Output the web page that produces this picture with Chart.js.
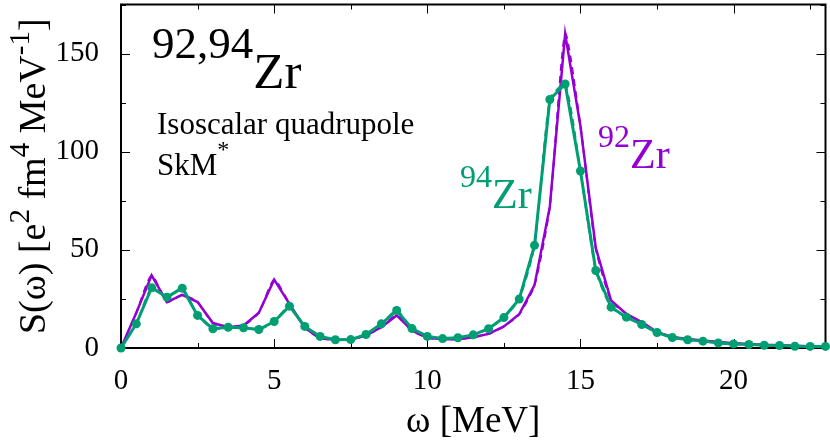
<!DOCTYPE html>
<html>
<head>
<meta charset="utf-8">
<script src="https://cdn.jsdelivr.net/npm/chart.js@4/dist/chart.umd.min.js"></script>
<style>
  html, body { margin: 0; padding: 0; background: #fff; }
</style>
</head>
<body>
<canvas id="chart" width="830" height="442"></canvas>
<script>
// excitation energy grid [MeV]
const omega = [0, 0.5, 1, 1.5, 2, 2.5, 3, 3.5, 4, 4.5, 5, 5.5, 6, 6.5, 7, 7.5, 8, 8.5, 9, 9.5,
  10, 10.5, 11, 11.5, 12, 12.5, 13, 13.5, 14, 14.5, 15, 15.5, 16, 16.5, 17, 17.5, 18, 18.5,
  19, 19.5, 20, 20.5, 21, 21.5, 22, 22.5, 23];

// strength function S(w) for 92Zr (purple) and 94Zr (green)
const zr92 = [0, 18, 37, 23.4, 27.1, 23.4, 12.7, 10.6, 11.5, 18, 34.8, 22.5, 10.3, 5, 4.2, 4.2,
  6.4, 10.6, 16.6, 8.9, 5.2, 4.5, 4.5, 5.5, 7.2, 11, 17.2, 32, 72, 160, 113, 51, 24.2, 17.4,
  13.2, 8.1, 5.6, 4.6, 3.8, 3.0, 2.4, 2.0, 1.6, 1.4, 1.1, 0.9, 0.8];
const zr94 = [0, 12.3, 30.7, 25.9, 30.5, 16.6, 9.8, 10.6, 10.3, 9.4, 13.5, 21.3, 11, 5.9, 4.2, 4.3,
  6.9, 12.3, 19.1, 9.9, 5.9, 4.8, 5.2, 6.7, 9.8, 15.5, 24.9, 52.3, 126.6, 134.5, 90.2, 39.5,
  20.8, 15.7, 12, 7.9, 5.3, 4.2, 3.5, 2.6, 2.1, 1.8, 1.4, 1.3, 0.9, 0.8, 0.8];

const xTicks = [0, 5, 10, 15, 20];
const yTicks = [0, 50, 100, 150];

const purple = '#9400d3';
const green = '#009e73';
const serif = "'Liberation Serif', 'DejaVu Serif', serif";

const pts = ys => omega.map((x, i) => ({ x: x, y: ys[i] }));

// draws a row of text pieces [text, size, dy] from x, returns width
function runs(ctx, x, y, parts, dry) {
  let cx = x;
  parts.forEach(([t, size, dy]) => {
    ctx.font = size + 'px ' + serif;
    if (!dry) ctx.fillText(t, cx, y + dy);
    cx += ctx.measureText(t).width;
  });
  return cx - x;
}

// gnuplot-like frame with inward ticks on all four sides
const framePlugin = {
  id: 'frame',
  beforeDatasetsDraw(chart) {
    const { ctx, chartArea: a, scales: { x, y } } = chart;
    ctx.save();
    ctx.strokeStyle = '#000';
    ctx.lineWidth = 1;
    ctx.beginPath();
    for (let v = 0; v <= 23; v += 2.5) {
      const px = Math.round(x.getPixelForValue(v)) + 0.5;
      const len = v % 5 === 0 ? 9 : 5;
      ctx.moveTo(px, a.bottom); ctx.lineTo(px, a.bottom - len);
      ctx.moveTo(px, a.top); ctx.lineTo(px, a.top + len);
    }
    for (let v = 0; v <= 175; v += 25) {
      const py = Math.round(y.getPixelForValue(v)) + 0.5;
      const len = v % 50 === 0 ? 9 : 5;
      ctx.moveTo(a.left, py); ctx.lineTo(a.left + len, py);
      ctx.moveTo(a.right, py); ctx.lineTo(a.right - len, py);
    }
    ctx.stroke();
    ctx.lineWidth = 2;
    ctx.strokeRect(a.left, a.top, a.right - a.left, a.bottom - a.top);
    ctx.restore();
  }
};

// labels and axis titles
const textPlugin = {
  id: 'texts',
  afterDraw(chart) {
    const { ctx, chartArea: a } = chart;
    ctx.save();
    ctx.textBaseline = 'alphabetic';
    ctx.textAlign = 'left';
    ctx.fillStyle = '#000';
    runs(ctx, 152, 88, [['92,94', 45, -30], ['Zr', 51, 0]]);
    ctx.font = '31px ' + serif;
    ctx.fillText('Isoscalar quadrupole', 157, 134);
    runs(ctx, 157, 175, [['SkM', 31, 0], ['*', 24, -18]]);

    ctx.fillStyle = green;
    runs(ctx, 460, 208, [['94', 32, -21], ['Zr', 42, 0]]);
    ctx.fillStyle = purple;
    runs(ctx, 598, 168, [['92', 32, -21], ['Zr', 42, 0]]);

    ctx.fillStyle = '#000';
    const xt = [['\u03c9 [MeV]', 37, 0]];
    const xw = runs(ctx, 0, 0, xt, true);
    runs(ctx, (a.left + a.right) / 2 - xw / 2, 432, xt);

    const yt = [['S(\u03c9) [e', 38, 0], ['2', 29, -16], [' fm', 38, 0], ['4', 29, -16],
      [' MeV', 38, 0], ['-1', 29, -16], [']', 38, 0]];
    const yw = runs(ctx, 0, 0, yt, true);
    ctx.translate(45, (a.top + a.bottom) / 2);
    ctx.rotate(-Math.PI / 2);
    runs(ctx, -yw / 2, 0, yt);
    ctx.restore();
  }
};

new Chart(document.getElementById('chart'), {
  type: 'line',
  data: {
    datasets: [
      { label: '94Zr', data: pts(zr94), borderColor: green, backgroundColor: green,
        borderWidth: 3, pointRadius: 4.5, pointBorderWidth: 0, pointBackgroundColor: green,
        order: 0, clip: false },
      { label: '94Zr smooth', data: pts(zr94), borderColor: green, borderWidth: 2,
        borderDash: [7, 5], pointRadius: 0, tension: 0.2, order: 1, clip: false },
      { label: '92Zr smooth', data: pts(zr92), borderColor: purple, borderWidth: 2,
        borderDash: [7, 5], pointRadius: 0, tension: 0.2, order: 2, clip: false },
      { label: '92Zr', data: pts(zr92), borderColor: purple, borderWidth: 2.5,
        pointRadius: 0, order: 3, clip: false }
    ]
  },
  options: {
    responsive: false,
    animation: false,
    devicePixelRatio: 1,
    layout: { padding: { top: 3, right: 2, left: 0, bottom: 0 } },
    plugins: { legend: { display: false }, tooltip: { enabled: false } },
    scales: {
      x: {
        type: 'linear', min: 0, max: 23,
        grid: { display: false, drawTicks: false },
        border: { display: false },
        afterBuildTicks: s => { s.ticks = xTicks.map(v => ({ value: v })); },
        afterFit: s => { s.height = 94; s.paddingLeft = 0; s.paddingRight = 0; },
        ticks: { color: '#000', padding: 16, maxRotation: 0, autoSkip: false,
          font: { family: serif, size: 29 } }
      },
      y: {
        min: 0, max: 175,
        grid: { display: false, drawTicks: false },
        border: { display: false },
        afterBuildTicks: s => { s.ticks = yTicks.map(v => ({ value: v })); },
        afterFit: s => { s.width = 121; s.paddingTop = 0; s.paddingBottom = 0; },
        ticks: { color: '#000', padding: 22, font: { family: serif, size: 29 } }
      }
    }
  },
  plugins: [framePlugin, textPlugin]
});
</script>
</body>
</html>
